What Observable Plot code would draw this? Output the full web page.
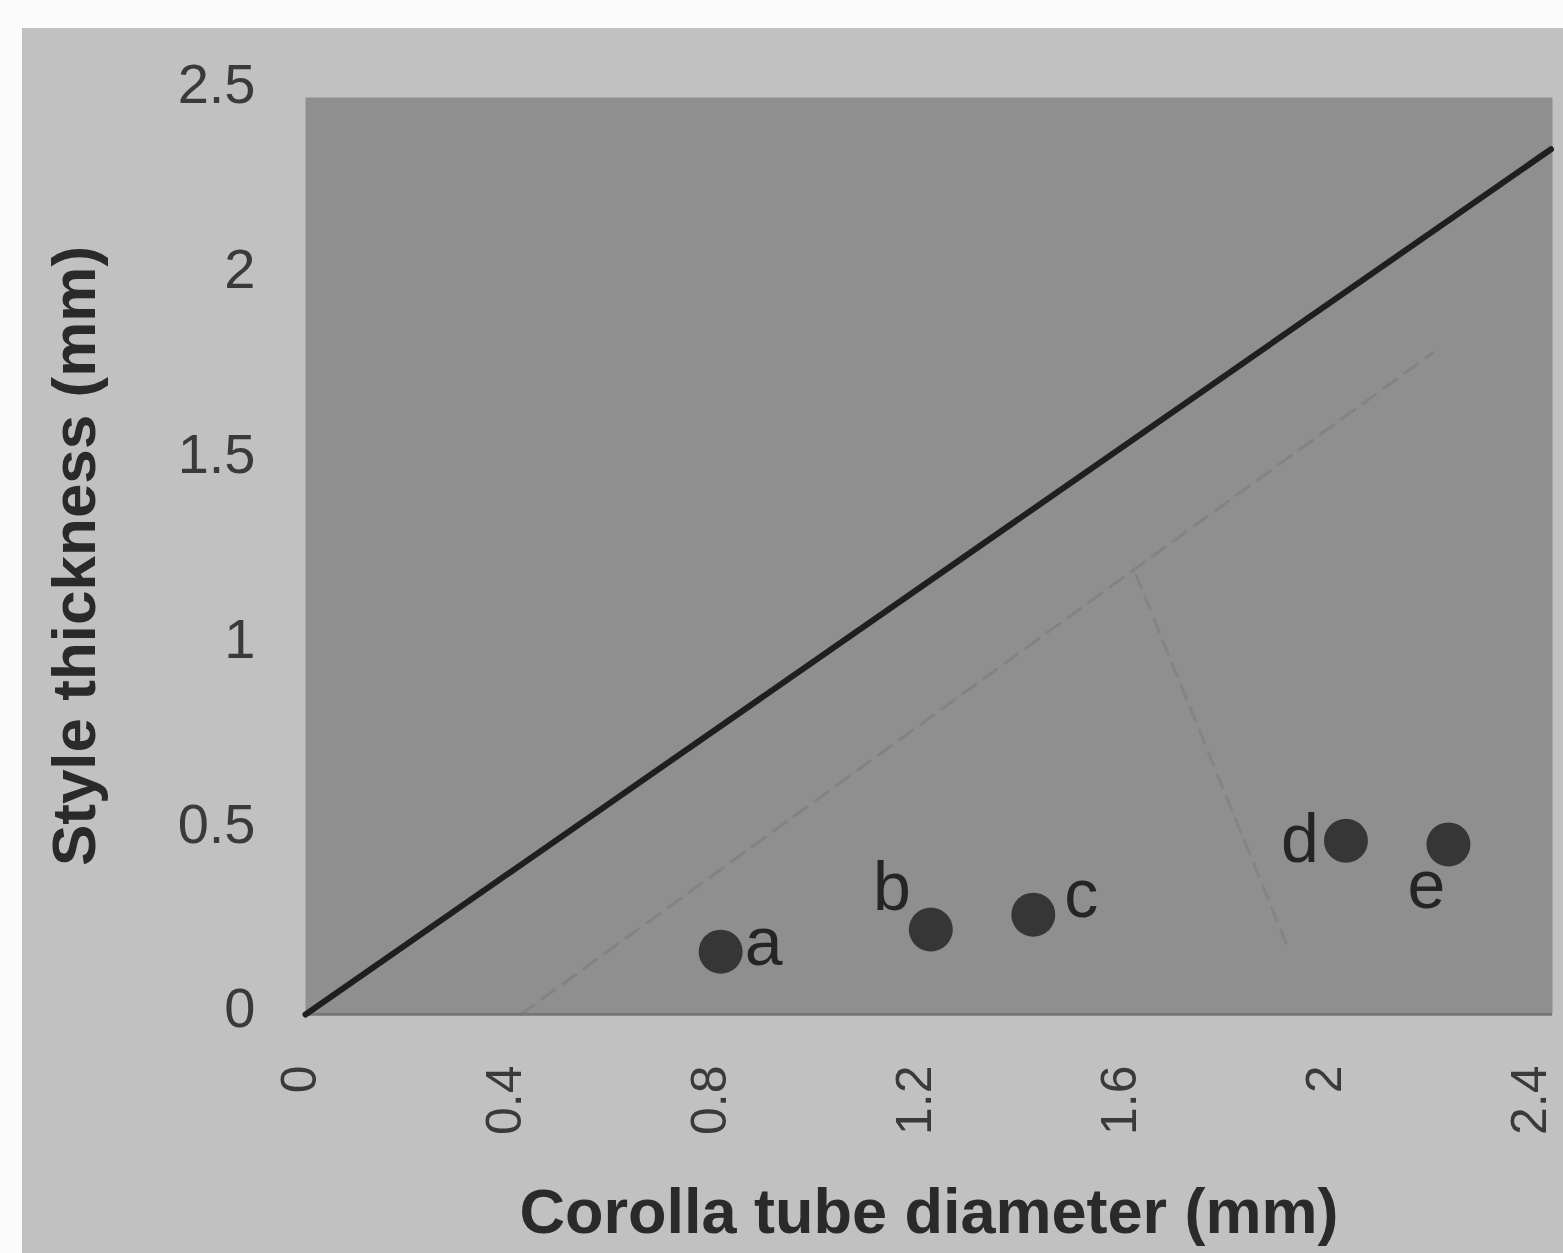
<!DOCTYPE html>
<html><head><meta charset="utf-8">
<script src="https://cdn.jsdelivr.net/npm/d3@7"></script>
<script src="https://cdn.jsdelivr.net/npm/@observablehq/plot@0.6"></script>
<style>
html,body{margin:0;padding:0;background:#fbfbfb;overflow:hidden;}
#chart{position:absolute;left:22px;top:28px;}
</style></head><body><div id="chart"></div>
<script>
// ---- data ----
const labels = ["a", "b", "c", "d", "e"];
const tubeDiameter = [0.81, 1.22, 1.42, 2.03, 2.23];    // x, mm
const styleThickness = [0.17, 0.23, 0.27, 0.47, 0.46];  // y, mm
const refLineX = [0, 2.43];
const refLineY = [0, 2.34];
const faintLineX = [0.42, 2.2];
const faintLineY = [0, 1.79];
const arrowX = [1.62, 1.92];
const arrowY = [1.19, 0.17];
const xTicks = [0, 0.4, 0.8, 1.2, 1.6, 2, 2.4];
const yTicks = [0, 0.5, 1, 1.5, 2, 2.5];
const xTitle = ["Corolla tube diameter (mm)"];
const yTitle = ["Style thickness (mm)"];

const points = labels.map((l, i) => ({label: l, x: tubeDiameter[i], y: styleThickness[i]}));
const refLine = refLineX.map((x, i) => ({x, y: refLineY[i]}));
const faintLine = faintLineX.map((x, i) => ({x, y: faintLineY[i]}));
const arrow = arrowX.map((x, i) => ({x, y: arrowY[i]}));

// label placement around each dot (pixels)
const offsets = {a: [43, -8], b: [-39, -41], c: [48, -19], d: [-46, 0], e: [-22, 42]};

const font = "'Liberation Sans', Arial, Helvetica, sans-serif";

const chart = Plot.plot({
  width: 1541,
  height: 1225,
  marginLeft: 283,
  marginRight: 11,
  marginTop: 69,
  marginBottom: 239,
  style: {background: "#c1c1c1", fontFamily: font, color: "#333"},
  x: {domain: [0, 2.433]},
  y: {domain: [0, 2.48]},
  marks: [
    Plot.frame({fill: "#8f8f8f", stroke: null}),
    Plot.ruleY([0], {stroke: "#5e5e5e", strokeWidth: 3, strokeOpacity: 0.6}),
    Plot.line(faintLine, {x: "x", y: "y", stroke: "#6c6c6c", strokeWidth: 3, strokeDasharray: "16,10", strokeOpacity: 0.35}),
    Plot.line(arrow, {x: "x", y: "y", stroke: "#6c6c6c", strokeWidth: 3, strokeDasharray: "14,10", strokeOpacity: 0.3}),
    Plot.line(refLine, {x: "x", y: "y", stroke: "#1f1f1f", strokeWidth: 6}),
    Plot.dot(points, {x: "x", y: "y", r: 22, fill: "#363636", stroke: null}),
    ...labels.map(l => Plot.text(points, {
      filter: d => d.label === l, x: "x", y: "y", text: "label",
      dx: offsets[l][0], dy: offsets[l][1],
      fontSize: 68, fill: "#252525", textAnchor: "middle", lineAnchor: "middle"
    })),
    Plot.axisY({ticks: yTicks, tickSize: 0, tickPadding: 50, fontSize: 56, fill: "#3a3a3a",
      tickFormat: d3.format("~g"), dy: -5, label: null}),
    Plot.axisX({ticks: xTicks, tickSize: 0, tickPadding: 51, tickRotate: -90, fontSize: 50, fill: "#3a3a3a",
      tickFormat: d3.format("~g"), dx: -6, label: null}),
    Plot.text(yTitle, {text: d => d, frameAnchor: "left", dx: -230, rotate: -90,
      fontSize: 62, fontWeight: "bold", fill: "#2a2a2a", textAnchor: "middle", lineAnchor: "middle"}),
    Plot.text(xTitle, {text: d => d, frameAnchor: "bottom", dy: 198,
      fontSize: 63, fontWeight: "bold", fill: "#2a2a2a", textAnchor: "middle", lineAnchor: "middle"})
  ]
});
document.getElementById("chart").append(chart);
</script></body></html>
